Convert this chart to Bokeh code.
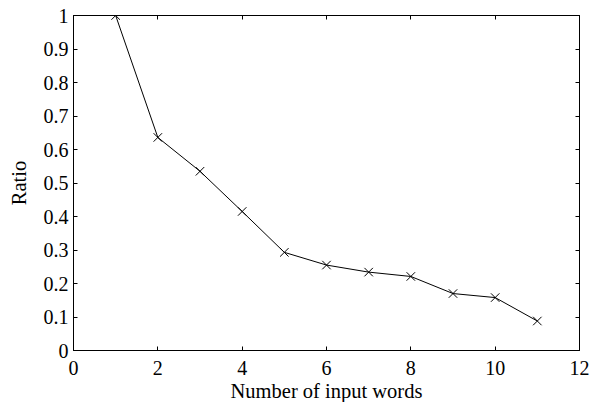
from bokeh.plotting import figure
from bokeh.models import LinearAxis, FixedTicker, Range1d
from bokeh.embed import file_html
from bokeh.resources import INLINE

words = [1, 2, 3, 4, 5, 6, 7, 8, 9, 10, 11]
ratio = [1.0, 0.636, 0.535, 0.415, 0.293, 0.255, 0.234, 0.221, 0.170, 0.158, 0.088]
x_ticks = [0, 2, 4, 6, 8, 10, 12]
y_ticks = [0, 0.1, 0.2, 0.3, 0.4, 0.5, 0.6, 0.7, 0.8, 0.9, 1]

FONT = "Liberation Serif"

p = figure(frame_width=506, frame_height=335, output_backend="svg", toolbar_location=None,
           x_range=Range1d(0, 12), y_range=Range1d(0, 1),
           min_border_left=73, min_border_right=13, min_border_top=15, min_border_bottom=52)
p.grid.visible = False
p.outline_line_color = "black"
p.outline_line_width = 1
p.background_fill_color = "white"
p.border_fill_color = "white"

p.line(words, ratio, line_color="black", line_width=1)
p.scatter(words, ratio, marker="x", size=12, line_color="black", line_width=1)

for ax, ticks in ((p.xaxis[0], x_ticks), (p.yaxis[0], y_ticks)):
    ax.ticker = FixedTicker(ticks=ticks)
    ax.major_tick_in = 4
    ax.major_tick_out = 0
    ax.minor_tick_line_color = None
    ax.major_label_text_font = FONT
    ax.major_label_text_font_size = "20px"
    ax.major_label_text_color = "black"
    ax.axis_label_text_font = FONT
    ax.axis_label_text_font_size = "20.5px"
    ax.axis_label_text_font_style = "normal"
    ax.axis_label_text_color = "black"
    ax.axis_line_color = "black"

p.xaxis[0].axis_label = "Number of input words"
p.yaxis[0].axis_label = "Ratio"
p.xaxis[0].major_label_standoff = 10
p.yaxis[0].major_label_standoff = 5
p.xaxis[0].axis_label_standoff = 2
p.yaxis[0].axis_label_standoff = 11

top = LinearAxis(ticker=FixedTicker(ticks=x_ticks), major_tick_in=4, major_tick_out=0,
                 minor_tick_line_color=None,
                 major_label_overrides={t: "" for t in x_ticks},
                 major_label_standoff=0, axis_line_color="black")
right = LinearAxis(ticker=FixedTicker(ticks=y_ticks), major_tick_in=4, major_tick_out=0,
                   minor_tick_line_color=None,
                   major_label_overrides={t: "" for t in y_ticks},
                   major_label_standoff=0, axis_line_color="black")
p.add_layout(top, "above")
p.add_layout(right, "right")

open("out.html", "w").write(file_html(p, INLINE))
